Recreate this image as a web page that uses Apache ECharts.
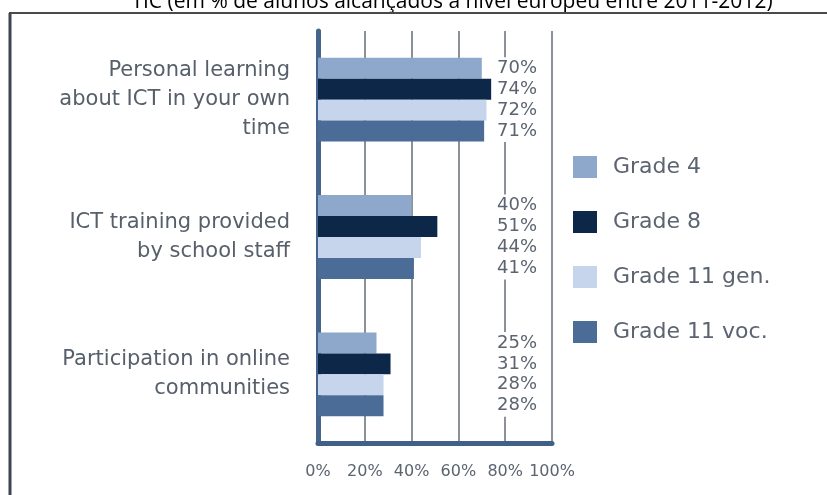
<!DOCTYPE html>
<html>
<head>
<meta charset="utf-8">
<script src="https://cdn.jsdelivr.net/npm/echarts@6/dist/echarts.min.js"></script>
<style>html,body{margin:0;padding:0;background:#fff;}#c{width:827px;height:495px;}</style>
</head>
<body>
<div id="c"></div>
<script>
const titleText = 'TIC (em % de alunos alcançados a nível europeu entre 2011-2012)';
const categories = ['Personal learning\nabout ICT in your own\ntime', 'ICT training provided\nby school staff', 'Participation in online\ncommunities'];
const seriesNames = ['Grade 4', 'Grade 8', 'Grade 11 gen.', 'Grade 11 voc.'];
const grade4 = [70, 40, 25];
const grade8 = [74, 51, 31];
const grade11gen = [72, 44, 28];
const grade11voc = [71, 41, 28];
const xTicks = [0, 20, 40, 60, 80, 100];
const colors = ['#8ea8cc', '#0c2748', '#c6d4ec', '#4a6c97'];

const seriesData = [grade4, grade8, grade11gen, grade11voc];
const txt = '#5b6470';
const chart = echarts.init(document.getElementById('c'), null, {renderer: 'canvas'});
chart.setOption({
  animation: false,
  backgroundColor: '#fff',
  grid: {left: 318, right: 275, top: 31, bottom: 52, containLabel: false},
  xAxis: {
    type: 'value', min: xTicks[0], max: xTicks[xTicks.length - 1], interval: 20,
    axisLine: {show: true, lineStyle: {color: '#3f6089', width: 5}},
    axisTick: {show: false},
    axisLabel: {formatter: '{value}%', color: txt, fontFamily: 'DejaVu Sans', fontSize: 16, margin: 21},
    splitLine: {show: true, lineStyle: {color: '#8c9198', width: 2}}
  },
  yAxis: {
    type: 'category', inverse: true, data: categories,
    axisLine: {show: true, lineStyle: {color: '#46658d', width: 5}},
    axisTick: {show: false},
    axisLabel: {color: '#565f6a', fontFamily: 'DejaVu Sans', fontSize: 21, lineHeight: 29, margin: 28, align: 'right'}
  },
  legend: {
    orient: 'vertical', left: 568, top: 151,
    itemWidth: 24, itemHeight: 22, itemGap: 33, icon: 'rect',
    textStyle: {color: txt, fontFamily: 'DejaVu Sans', fontSize: 22, padding: [0, 0, 0, 11]},
    data: seriesNames
  },
  series: seriesNames.map((n, i) => ({
    name: n, type: 'bar', data: seriesData[i],
    barGap: '0%', barCategoryGap: '39%',
    itemStyle: {color: colors[i]},
    label: {
      show: true, position: [223, '50%'], align: 'right', verticalAlign: 'middle',
      formatter: '{c}%', color: txt, fontFamily: 'DejaVu Sans', fontSize: 18,
      backgroundColor: '#fff', lineHeight: 22, padding: [0, 4]
    }
  })),
  graphic: [
    {type: 'text', style: {text: titleText, x: 452, y: 2, align: 'center', verticalAlign: 'middle', fill: '#000', font: '21px "Open Sans"'}, z: 10},
    {type: 'line', shape: {x1: 9, y1: 13, x2: 827, y2: 13}, style: {stroke: '#4a4a4a', lineWidth: 2}, z: 10},
    {type: 'line', shape: {x1: 10, y1: 13, x2: 10, y2: 495}, style: {stroke: '#3c4550', lineWidth: 3}, z: 10}
  ]
});
</script>
</body>
</html>
